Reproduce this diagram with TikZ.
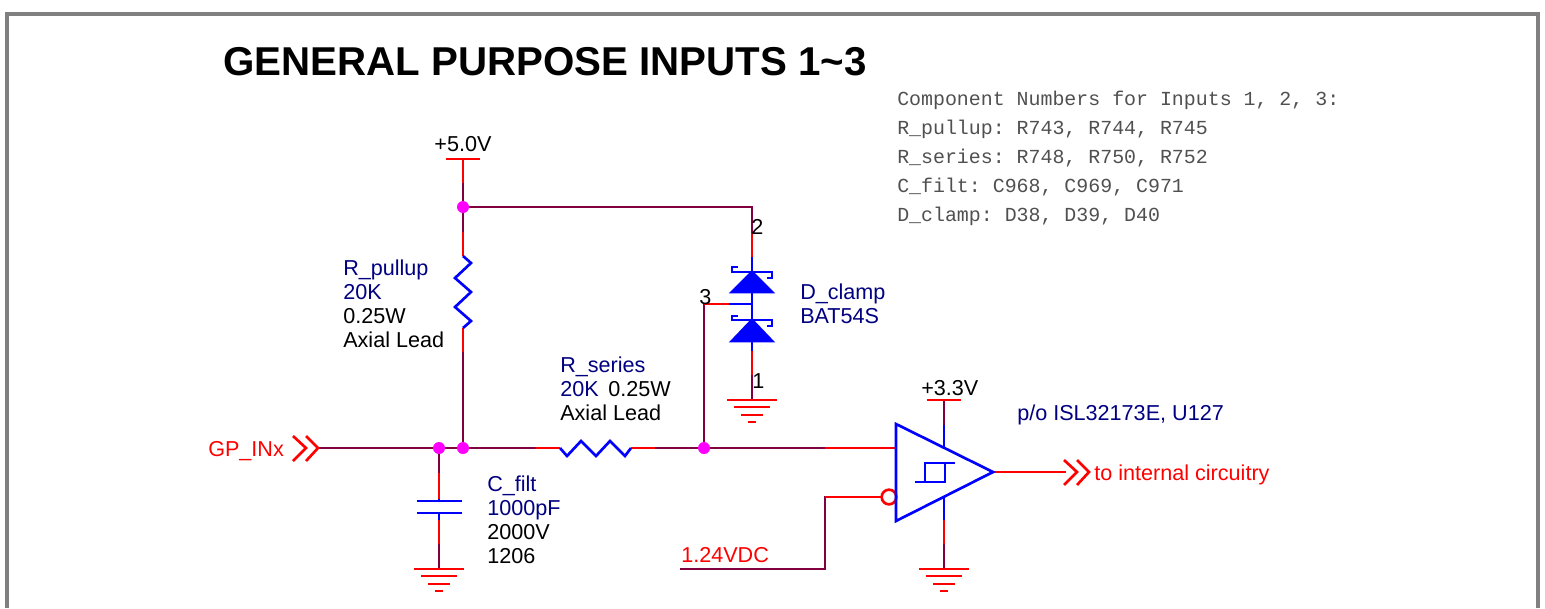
\documentclass[tikz,border=0pt]{standalone}
\usepackage{fontspec}
\setmainfont{Liberation Sans}
\setmonofont{Liberation Mono}
\usepackage{xcolor}
\definecolor{wirecol}{HTML}{800040}
\definecolor{partcol}{HTML}{000080}
\definecolor{notecol}{HTML}{505050}
\definecolor{dotcol}{HTML}{FF00FF}
\definecolor{pincol}{HTML}{FF0000}
\definecolor{bodycol}{HTML}{0000FF}
\tikzstyle{wire} = [draw = wirecol, line width = 2pt]
\tikzstyle{pin} = [draw = pincol, line width = 2pt]
\tikzstyle{body} = [draw = bodycol, line width = 2pt]
\tikzstyle{junction} = [circle, fill = dotcol, inner sep = 0pt, minimum size = 9pt]
\tikzstyle{lbl} = [anchor = base west, inner sep = 0pt, font = \fontsize{16.2}{18}\selectfont]
\tikzstyle{partname} = [lbl, text = partcol]
\tikzstyle{partval} = [lbl, text = black]
\tikzstyle{netname} = [lbl, text = pincol]
\tikzstyle{note} = [anchor = base west, inner sep = 0pt, text = notecol, font = \ttfamily\fontsize{14.93}{18}\selectfont]
\newcommand{\gndsym}[1]{\foreach \dy/\hw in {0/25,7/18,15/11,22/4} {\draw [pin] ([shift={(-\hw,\dy)}]#1) -- ([shift={(\hw,\dy)}]#1);}}
\begin{document}
\begin{tikzpicture}[x = 0.75pt, y = -0.75pt]
\useasboundingbox (0,0) rectangle (1545,608);

\draw [draw = gray, line width = 2.4pt] (7,608) |- (1538,14) -- (1538,608);

\node(title) [anchor = base west, inner sep = 0pt, font = \bfseries\fontsize{30.2}{32}\selectfont] at (223,75) {GENERAL PURPOSE INPUTS 1\textasciitilde 3};
\node(note1) [note] at (897,105) {Component Numbers for Inputs 1, 2, 3:};
\node(note2) [note] at (897,134) {R\_pullup: R743, R744, R745};
\node(note3) [note] at (897,163) {R\_series: R748, R750, R752};
\node(note4) [note] at (897,192) {C\_filt: C968, C969, C971};
\node(note5) [note] at (897,221) {D\_clamp: D38, D39, D40};

% junctions and terminals
\coordinate (vcc) at (463,159);
\coordinate (vccb) at (944,400);
\coordinate (gndcap) at (439,569);
\coordinate (gndclamp) at (752,400);
\coordinate (gndamp) at (944,569);
\coordinate (gpin) at (318,448);
\coordinate (rpulltop) at (463,256);
\coordinate (rpullbot) at (463,328);
\coordinate (rserl) at (560,448);
\coordinate (rserr) at (631,448);
\coordinate (captop) at (439,501);
\coordinate (capbot) at (439,513);
\coordinate (clamptop) at (752,257);
\coordinate (clampmid) at (752,304);
\coordinate (clampbot) at (752,351);
\coordinate (clampleft) at (704,304);
\coordinate (ampin) at (896,448);
\coordinate (ampref) at (882,497);
\coordinate (reftap) at (825,497);
\coordinate (refend) at (680,569);
\coordinate (ampvcc) at (944,448);
\coordinate (ampgnd) at (944,497);
\coordinate (ampout) at (993,472);
\coordinate (outend) at (1077,472);
\coordinate (railtop) at (752,207);

% wires
\draw [wire] (vcc) -- (rpulltop);
\draw [wire] (rpullbot) -- (463,448);
\draw [wire] (463,207) -- (railtop) -- (clamptop);
\draw [wire] (clampleft) -- (704,448);
\draw [wire] (clampbot) -- (gndclamp);
\draw [wire] (gpin) -- (rserl);
\draw [wire] (rserr) -- (ampin);
\draw [wire] (captop) -- (439,448);
\draw [wire] (capbot) -- (gndcap);
\draw [wire] (ampref) -| (reftap) |- (refend);
\draw [wire] (vccb) -- (ampvcc);
\draw [wire] (ampgnd) -- (gndamp);

% pin stubs
\draw [pin] (vcc) -- ++(0,24);
\draw [pin] (rpulltop) -- ++(0,-24);
\draw [pin] (rpullbot) -- ++(0,24);
\draw [pin] (rserl) -- ++(-24,0);
\draw [pin] (rserr) -- ++(24,0);
\draw [pin] (captop) -- ++(0,-28);
\draw [pin] (capbot) -- ++(0,31);
\draw [pin] (clamptop) -- ++(0,-24);
\draw [pin] (clampbot) -- ++(0,24);
\draw [pin] (clampleft) -- ++(25,0);
\draw [pin] (ampin) -- ++(-71,0);
\draw [pin] (ampref) -- (reftap);
\draw [pin] (ampgnd) ++(0,23) -- ++(0,24);
\draw [pin] (ampout) -- (1066,472);

% power and ground
\draw [pin] ([xshift=-13]vcc) -- ([xshift=13]vcc);
\draw [pin] ([xshift=-13]vccb) -- ([xshift=13]vccb);
\gndsym{gndcap}
\gndsym{gndclamp}
\gndsym{gndamp}

% off page connectors
\draw [pin] (293,436) -- (306,448) -- (293,461);
\draw [pin] (306,436) -- (gpin) -- (306,461);
\draw [pin] (1064,460) -- (1077,472) -- (1064,485);
\draw [pin] (1077,460) -- (1089,472) -- (1077,485);

% resistors
\draw [body, line join = miter] (rpulltop) -- (471,263) -- (455,278) -- (471,292) -- (455,307) -- (471,321) -- (rpullbot);
\draw [body, line join = miter] (rserl) -- (567,456) -- (581,441) -- (596,456) -- (610,441) -- (625,456) -- (rserr);

% capacitor
\draw [body] (417,501) -- (462,501);
\draw [body] (417,513) -- (462,513);
\draw [body] (captop) -- ++(0,-2);
\draw [body] (capbot) -- ++(0,7);

% clamp diodes
\draw [body] (clamptop) -- (clampbot);
\draw [body] (clampmid) -- (729,304);
\draw [body, fill = bodycol] (752,272) -- (732,292) -- (772,292) -- cycle;
\draw [body, fill = bodycol] (752,320) -- (732,341) -- (772,341) -- cycle;
\draw [body, line width = 1.5pt] (738,267) -- (732,267) -- (732,272) -- (772,272) -- (772,278) -- (767,278);
\draw [body, line width = 1.5pt] (738,316) -- (732,316) -- (732,320) -- (772,320) -- (772,326) -- (767,326);

% amplifier
\node(ampbub) [circle, draw = pincol, line width = 2pt, fill = white, inner sep = 0pt, minimum size = 11pt] at (889,497) {};
\draw [body] (ampvcc) -- ++(0,-23);
\draw [body] (ampgnd) -- ++(0,23);
\draw [body, line join = miter] (896,424) -- (896,521) -- (ampout) -- cycle;
\draw [body] (915,482) -- (945,482) -- (945,463) -- (955,463);
\draw [body] (925,482) -- (925,463) -- (945,463);

% junction dots
\node(jvcc) [junction] at (463,207) {};
\node(jcap) [junction] at (439,448) {};
\node(jpull) [junction] at (463,448) {};
\node(jclamp) [junction] at (704,448) {};

% labels
\node(vcclbl) [partval, anchor = base] at (463,151) {+5.0V};
\node(vccblbl) [partval] at (921,395) {+3.3V};
\node(pullname) [partname] at (343,275) {R\_pullup};
\node(pullval) [partname] at (343,299) {20K};
\node(pullpwr) [partval] at (343,323) {0.25W};
\node(pullpkg) [partval] at (343,347) {Axial Lead};
\node(sername) [partname] at (560,372) {R\_series};
\node(serval) [partname] at (560,396) {20K};
\node(serpwr) [partval] at (608,396) {0.25W};
\node(serpkg) [partval] at (560,420) {Axial Lead};
\node(capname) [partname] at (487,491) {C\_filt};
\node(capval) [partname] at (487,515) {1000pF};
\node(capvolt) [partval] at (487,539) {2000V};
\node(cappkg) [partval] at (487,563) {1206};
\node(clampname) [partname] at (800,299) {D\_clamp};
\node(clampval) [partname] at (800,323) {BAT54S};
\node(pintwo) [partval] at (751,234) {2};
\node(pinthree) [partval] at (699,304) {3};
\node(pinone) [partval] at (752,388) {1};
\node(ampname) [partname] at (1017,420) {p/o ISL32173E, U127};
\node(gplbl) [netname] at (208,456) {GP\_INx};
\node(outlbl) [netname] at (1094,480) {to internal circuitry};
\node(reflbl) [netname] at (681,562) {1.24VDC};

\end{tikzpicture}
\end{document}
